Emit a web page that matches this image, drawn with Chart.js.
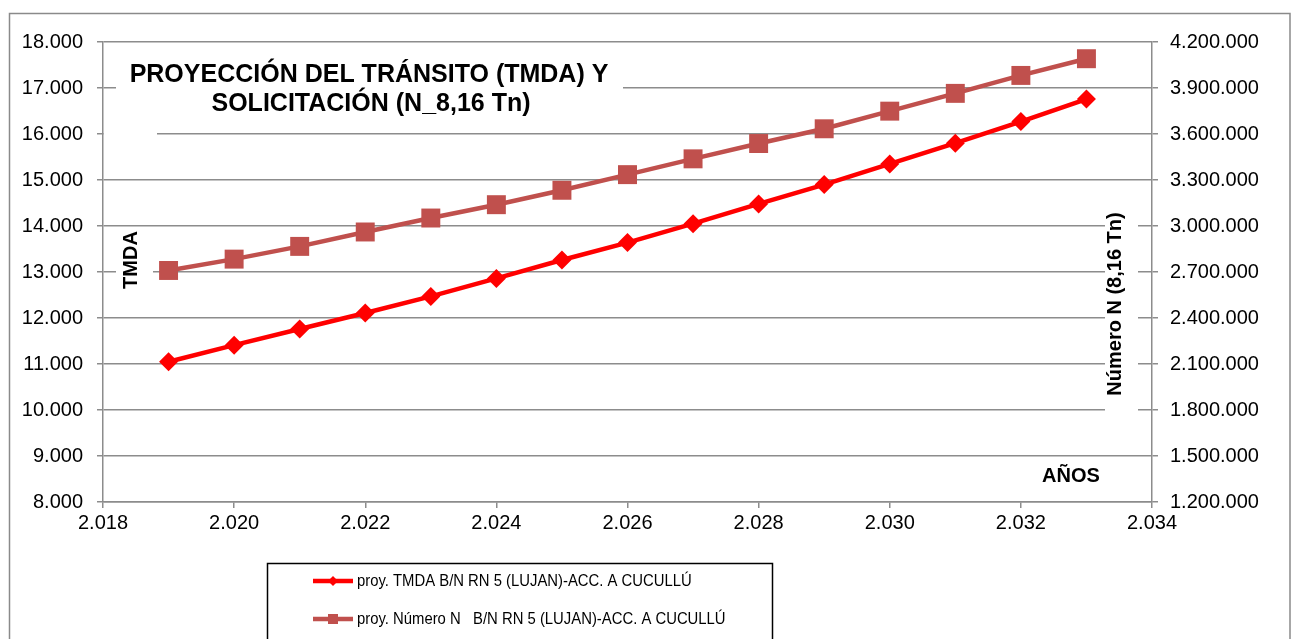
<!DOCTYPE html>
<html>
<head>
<meta charset="utf-8">
<script src="https://cdn.jsdelivr.net/npm/chart.js@4.4.1/dist/chart.umd.min.js"></script>
<style>
  html, body { margin: 0; padding: 0; background: #fff; }
  #wrap { width: 1291px; height: 639px; }
</style>
</head>
<body>
<div id="wrap"><canvas id="statsChart" width="1291" height="639"></canvas></div>
<script>
// data
const years = [2019, 2020, 2021, 2022, 2023, 2024, 2025, 2026, 2027, 2028, 2029, 2030, 2031, 2032, 2033];
const tmdaValues = [11050, 11410, 11760, 12110, 12470, 12860, 13260, 13640, 14050, 14480, 14900, 15350, 15800, 16270, 16760];
const numeroNValues = [2710000, 2784000, 2867000, 2961000, 3052000, 3139000, 3233000, 3335000, 3438000, 3538000, 3634000, 3749000, 3865000, 3982000, 4091000];
const seriesLabels = [
  "proy. TMDA B/N RN 5 (LUJAN)-ACC. A CUCULLÚ",
  "proy. Número N   B/N RN 5 (LUJAN)-ACC. A CUCULLÚ",
];
const titleLines = ["PROYECCIÓN DEL TRÁNSITO (TMDA) Y", "SOLICITACIÓN (N_8,16 Tn)"];
const leftAxisTitle = "TMDA";
const rightAxisTitle = "Número N (8,16 Tn)";
const xAxisTitle = "AÑOS";

const FONT = "'Liberation Sans', Arial, sans-serif";
const gridColor = "#8c8c8c";
const tmdaColor = "#ff0000";
const numeroColor = "#c0504d";

function formatThousands(v) {
  return String(Math.round(v)).replace(/\B(?=(\d{3})+(?!\d))/g, ".");
}

function toPoints(values) {
  return years.map((year, i) => ({ x: year, y: values[i] }));
}

// masks, titles, outer frame and legend box
const decorPlugin = {
  id: "decor",
  beforeDraw(chart) {
    const ctx = chart.ctx;
    ctx.save();
    ctx.fillStyle = "#ffffff";
    ctx.fillRect(0, 0, chart.width, chart.height);
    ctx.strokeStyle = "#8a8a8a";
    ctx.lineWidth = 1.5;
    ctx.strokeRect(9.5, 13.5, 1280.5, 640);
    ctx.restore();
  },
  afterDraw(chart) {
    const ctx = chart.ctx;
    ctx.save();

    // white boxes behind the text blocks
    ctx.fillStyle = "#ffffff";
    ctx.fillRect(116, 52, 507, 76);
    ctx.fillRect(104, 128, 53, 12);
    ctx.fillRect(116, 230, 37, 62);
    ctx.fillRect(1105, 200, 33, 216);

    ctx.fillStyle = "#000000";
    ctx.textAlign = "center";
    ctx.textBaseline = "middle";
    ctx.font = "bold 25px " + FONT;
    ctx.fillText(titleLines[0], 369, 75);
    ctx.fillText(titleLines[1], 371, 104);

    ctx.font = "bold 20px " + FONT;
    ctx.fillText(xAxisTitle, 1071, 476);

    ctx.save();
    ctx.translate(131, 260);
    ctx.rotate(-Math.PI / 2);
    ctx.fillText(leftAxisTitle, 0, 0);
    ctx.restore();

    ctx.save();
    ctx.translate(1115, 304);
    ctx.rotate(-Math.PI / 2);
    ctx.fillText(rightAxisTitle, 0, 0);
    ctx.restore();

    // legend
    ctx.strokeStyle = "#000000";
    ctx.lineWidth = 1.5;
    ctx.strokeRect(267.5, 563.5, 505, 90);
    ctx.font = "16.5px " + FONT;
    ctx.textAlign = "left";
    chart.data.datasets.forEach((ds, i) => {
      const y = 581 + i * 38;
      ctx.strokeStyle = ds.borderColor;
      ctx.lineWidth = 4.5;
      ctx.beginPath();
      ctx.moveTo(313, y);
      ctx.lineTo(353, y);
      ctx.stroke();
      ctx.fillStyle = ds.backgroundColor;
      if (ds.pointStyle === "rectRot") {
        ctx.beginPath();
        ctx.moveTo(333 - 5, y);
        ctx.lineTo(333, y - 5);
        ctx.lineTo(333 + 5, y);
        ctx.lineTo(333, y + 5);
        ctx.closePath();
        ctx.fill();
      } else {
        ctx.fillRect(333 - 5, y - 5, 10, 10);
      }
      // excel draws this text slightly condensed
      ctx.save();
      ctx.translate(357, y);
      ctx.scale(0.9, 1);
      ctx.fillStyle = "#000000";
      ctx.fillText(ds.label, 0, 0);
      ctx.restore();
    });
    ctx.restore();
  },
};

const ctx = document.getElementById("statsChart").getContext("2d");
new Chart(ctx, {
  type: "line",
  data: {
    datasets: [
      {
        label: seriesLabels[0],
        data: toPoints(tmdaValues),
        yAxisID: "y",
        borderColor: tmdaColor,
        backgroundColor: tmdaColor,
        borderWidth: 4.5,
        pointStyle: "rectRot",
        pointRadius: 9.5,
        pointBorderWidth: 0,
        tension: 0,
      },
      {
        label: seriesLabels[1],
        data: toPoints(numeroNValues),
        yAxisID: "y1",
        borderColor: numeroColor,
        backgroundColor: numeroColor,
        borderWidth: 4.5,
        pointStyle: "rect",
        pointRadius: 13.4,
        pointBorderWidth: 0,
        tension: 0,
      },
    ],
  },
  options: {
    responsive: false,
    animation: false,
    layout: { padding: { top: 42, left: 0, right: 0, bottom: 0 } },
    plugins: {
      legend: { display: false },
      tooltip: { enabled: false },
    },
    scales: {
      x: {
        type: "linear",
        min: 2018,
        max: 2034,
        afterFit: (s) => { s.height = 137; },
        border: { color: gridColor, width: 1.5 },
        grid: { drawOnChartArea: false, color: gridColor, lineWidth: 1.5, tickLength: 6 },
        ticks: {
          stepSize: 2,
          padding: 3,
          color: "#000",
          font: { family: FONT, size: 20 },
          callback: (v) => formatThousands(v),
        },
      },
      y: {
        position: "left",
        min: 8000,
        max: 18000,
        afterFit: (s) => { s.width = 103; },
        border: { color: gridColor, width: 1.5 },
        grid: { color: gridColor, lineWidth: 1.5, tickLength: 6 },
        ticks: {
          stepSize: 1000,
          padding: 14,
          color: "#000",
          font: { family: FONT, size: 20 },
          callback: (v) => formatThousands(v),
        },
      },
      y1: {
        position: "right",
        min: 1200000,
        max: 4200000,
        afterFit: (s) => { s.width = 139; },
        border: { color: gridColor, width: 1.5 },
        grid: { drawOnChartArea: false, color: gridColor, lineWidth: 1.5, tickLength: 6 },
        ticks: {
          stepSize: 300000,
          padding: 12,
          color: "#000",
          font: { family: FONT, size: 20 },
          callback: (v) => formatThousands(v),
        },
      },
    },
  },
  plugins: [decorPlugin],
});
</script>
</body>
</html>
